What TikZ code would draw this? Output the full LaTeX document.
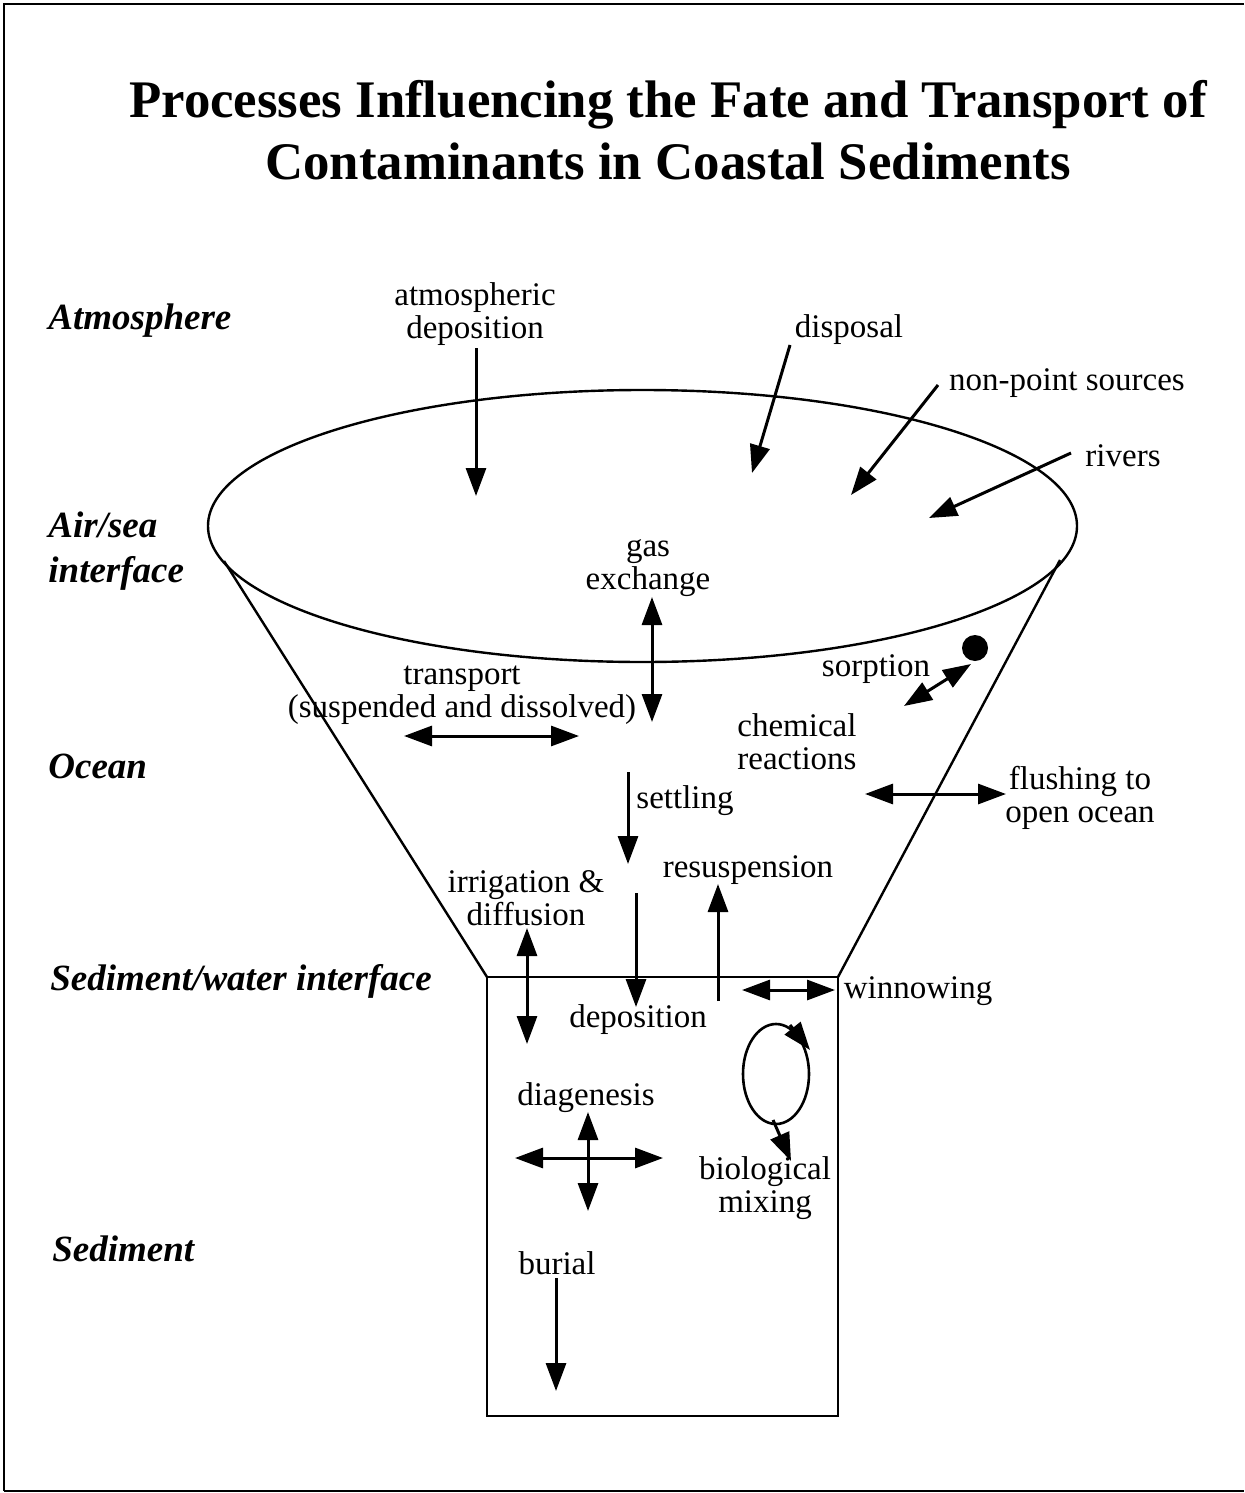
\documentclass[tikz,border=0pt]{standalone}
\usepackage{fontspec}
\setmainfont{Liberation Serif}
\usetikzlibrary{arrows.meta}
\begin{document}
\begin{tikzpicture}[x=0.5pt,y=-0.5pt,
  lbl/.style={inner sep=0pt, font=\fontsize{16.5}{16.5}\selectfont, align=center},
  side/.style={inner sep=0pt, anchor=west, font=\fontsize{18.5}{22.5}\selectfont\bfseries\itshape, align=left},
  arr/.style={line width=1.5pt, -{Triangle[length=14pt,width=10pt]}},
  darr/.style={line width=1.5pt, {Triangle[length=14pt,width=10pt]}-{Triangle[length=14pt,width=10pt]}},
  outline/.style={line width=1.2pt}]
\useasboundingbox (0,0) rectangle (1244,1493);
% frame
\draw[line width=1.2pt] (4,1491) -- (4,4) -- (1244,4);
\draw[line width=1pt] (4,1491) -- (1244,1491);
% title
\node[inner sep=0pt, align=center, font=\fontsize{26.4}{31}\selectfont\bfseries] (title) at (668,130)
  {Processes Influencing the Fate and Transport of\\Contaminants in Coastal Sediments};
% side labels
\node[side] (atm) at (48,321) {Atmosphere};
\node[side] (airsea) at (48,551) {Air/sea\\interface};
\node[side] (ocean) at (48,766) {Ocean};
\node[side] (sedw) at (50,981) {Sediment/water interface};
\node[side] (sed) at (52,1249) {Sediment};
% funnel
\draw[outline] (642.5,526) ellipse [x radius=434.5, y radius=136];
\coordinate (cl1) at (224,561); \coordinate (cl2) at (487,977);
\coordinate (cr1) at (1060,560); \coordinate (cr2) at (838,977);
\draw[outline] (cl1) -- (cl2);
\draw[outline] (cr1) -- (cr2);
\draw[line width=1.3pt] (487,977) rectangle (838,1416);
% labels
\node[lbl] (atmdep) at (475,314) {atmospheric\\deposition};
\node[lbl] (disp) at (849,330) {disposal};
\node[lbl] (nps) at (1067,383) {non-point sources};
\node[lbl] (riv) at (1123,456) {rivers};
\node[lbl] (gas) at (648,568) {gas\\exchange};
\node[lbl] (trans) at (462,695) {transport\\(suspended and dissolved)};
\node[lbl] (sorp) at (876,669) {sorption};
\node[lbl, anchor=west, align=left] (chem) at (737,742) {chemical\\reactions};
\node[lbl] (flush) at (1080,798) {flushing to\\open ocean};
\node[lbl] (settl) at (685,801) {settling};
\node[lbl] (irr) at (526,898) {irrigation \&\\diffusion};
\node[lbl] (resus) at (748,870) {resuspension};
\node[lbl] (depo) at (638,1020) {deposition};
\node[lbl] (winn) at (918,991) {winnowing};
\node[lbl] (diag) at (586,1098) {diagenesis};
\node[lbl] (biomix) at (765,1188) {biological\\mixing};
\node[lbl] (burial) at (557,1263) {burial};
% particle
\node[circle, fill=black, inner sep=0pt, minimum size=13pt] (dot) at (975,648) {};
% arrow endpoints
\coordinate (a1s) at (476,348); \coordinate (a1e) at (476,496);
\coordinate (a2s) at (790,345); \coordinate (a2e) at (752,473);
\coordinate (a3s) at (938,385); \coordinate (a3e) at (851,495);
\coordinate (a4s) at (1071,453); \coordinate (a4e) at (929,518);
\coordinate (g1) at (652,597); \coordinate (g2) at (652,722);
\coordinate (t1) at (404,736); \coordinate (t2) at (579,736);
\coordinate (s1) at (904,706); \coordinate (s2) at (971,664);
\coordinate (f1) at (865,794); \coordinate (f2) at (1006,794);
\coordinate (se1) at (628,772); \coordinate (se2) at (628,864);
\coordinate (i1) at (527,928); \coordinate (i2) at (527,1044);
\coordinate (d1) at (636,893); \coordinate (d2) at (636,1007);
\coordinate (r1) at (718,1001); \coordinate (r2) at (718,884);
\coordinate (w1) at (742,990); \coordinate (w2) at (835,990);
\coordinate (x1) at (515,1158); \coordinate (x2) at (663,1158);
\coordinate (y1) at (588,1112); \coordinate (y2) at (588,1211);
\coordinate (b1) at (556,1278); \coordinate (b2) at (556,1391);
% arrows
\draw[arr] (a1s) -- (a1e);
\draw[arr] (a2s) -- (a2e);
\draw[arr] (a3s) -- (a3e);
\draw[arr] (a4s) -- (a4e);
\draw[darr] (g1) -- (g2);
\draw[darr] (t1) -- (t2);
\draw[darr] (s1) -- (s2);
\draw[darr] (f1) -- (f2);
\draw[arr] (se1) -- (se2);
\draw[darr] (i1) -- (i2);
\draw[arr] (d1) -- (d2);
\draw[arr] (r1) -- (r2);
\draw[darr] (w1) -- (w2);
\draw[darr] (x1) -- (x2);
\draw[darr] (y1) -- (y2);
\draw[arr] (b1) -- (b2);
% biological mixing loop
\coordinate (loopc) at (776,1074);
\draw[line width=1.3pt] (loopc) ellipse [x radius=33, y radius=50];
\coordinate (m1) at (790,1025); \coordinate (m2) at (810,1050);
\coordinate (n1) at (773,1120); \coordinate (n2) at (791,1161);
\draw[arr] (m1) -- (m2);
\draw[arr] (n1) -- (n2);
\end{tikzpicture}
\end{document}
